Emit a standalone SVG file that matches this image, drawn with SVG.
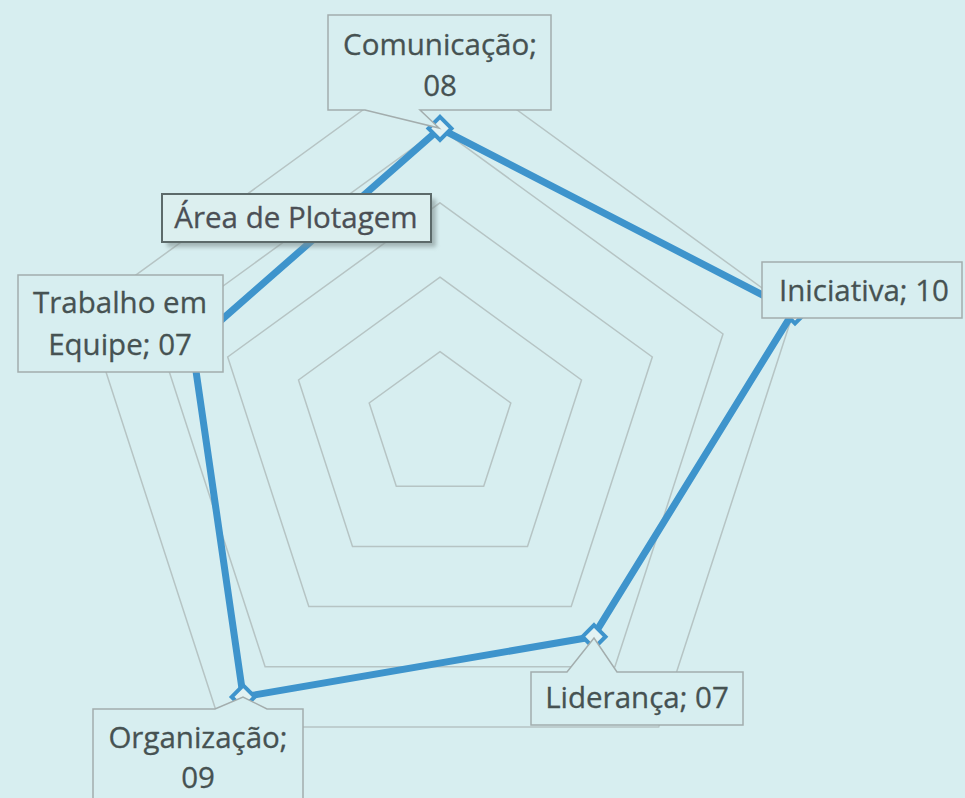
<svg xmlns="http://www.w3.org/2000/svg" width="965" height="798" viewBox="0 0 965 798">
  <defs>
    <style>
      .grid { fill: none; stroke: #b6c4c4; stroke-width: 1.5; }
      .series { fill: none; stroke: #3e94cc; stroke-width: 7; stroke-linejoin: round; }
      .marker { fill: #e2f2f3; stroke: #3e94cc; stroke-width: 4; }
      .lbl { fill: #d7eef0; stroke: #a3adad; stroke-width: 1.5; }
      .txt { font-family: "Open Sans", "Liberation Sans", sans-serif; font-size: 29.5px; fill: #465252; text-anchor: middle; stroke: #465252; stroke-width: 0.3; }
      .tip { fill: #dcefef; stroke: #5c6a6a; stroke-width: 2; }
      .tipshadow { fill: #7f8f8f; opacity: 0.6; }
    </style>
    <filter id="blur" x="-10%" y="-30%" width="120%" height="160%">
      <feGaussianBlur stdDeviation="2"/>
    </filter>
  </defs>
  <rect width="965" height="798" fill="#d7eef0"/>
  <g id="grid">
    <polygon class="grid" points="440,351.6 510.8,403 483.7,486.2 396.3,486.2 369.2,403"/>
    <polygon class="grid" points="440,277.2 581.5,380 527.5,546.4 352.5,546.4 298.5,380"/>
    <polygon class="grid" points="440,202.8 652.3,357 571.2,606.6 308.8,606.6 227.7,357"/>
    <polygon class="grid" points="440,128.4 723,334 614.9,666.8 265.1,666.8 157,334"/>
    <polygon class="grid" points="440,54 793.8,311.1 658.7,727 221.3,727 86.2,311.1"/>
  </g>
  <g id="connectors">
    <polygon class="series" points="440,128.4 793.8,311.1 593.1,636.7 243.2,696.9 192.3,345.5"/>
  </g>
  <g id="markers">
    <polygon class="marker" points="440,116.9 451.5,128.4 440,139.9 428.5,128.4"/>
    <polygon class="marker" points="795,300.5 806.5,312 795,323.5 783.5,312"/>
    <polygon class="marker" points="594,625.2 605.5,636.7 594,648.2 582.5,636.7"/>
    <polygon class="marker" points="243.2,685.4 254.7,696.9 243.2,708.4 231.7,696.9"/>
    <polygon class="marker" points="192.3,334 203.8,345.5 192.3,357 180.8,345.5"/>
  </g>
  <g id="node-comunicacao">
    <path class="lbl" d="M328,15 H551 V110 H420 L439,128 L365,110 H328 Z"/>
    <text class="txt" x="440" y="55">Comunicação;</text>
    <text class="txt" x="440" y="96">08</text>
  </g>
  <g id="node-iniciativa">
    <rect class="lbl" x="762" y="262" width="200" height="56"/>
    <text class="txt" x="864" y="301">Iniciativa; 10</text>
  </g>
  <g id="node-lideranca">
    <path class="lbl" d="M531,672 H567 L594,638 L617,672 H743 V725 H531 Z"/>
    <text class="txt" x="637" y="708">Liderança; 07</text>
  </g>
  <g id="node-organizacao">
    <path class="lbl" d="M93,709 H215 L243,697 L267,709 H303 V805 H93 Z"/>
    <text class="txt" x="198" y="748">Organização;</text>
    <text class="txt" x="198" y="788">09</text>
  </g>
  <g id="node-trabalho">
    <rect class="lbl" x="18" y="275" width="205" height="97"/>
    <text class="txt" x="120" y="313">Trabalho em</text>
    <text class="txt" x="120" y="355">Equipe; 07</text>
  </g>
  <g id="tooltip-area">
    <rect class="tipshadow" x="167" y="199" width="269" height="48" filter="url(#blur)"/>
    <rect class="tip" x="162" y="194" width="269" height="48"/>
    <text class="txt" x="296" y="228" style="fill:#4b4f55;stroke:#4b4f55">Área de Plotagem</text>
  </g>
</svg>
